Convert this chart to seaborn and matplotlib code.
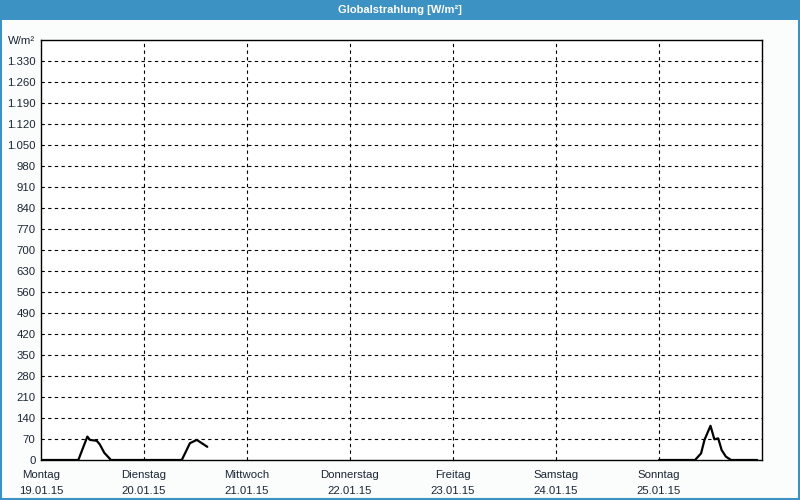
import matplotlib
matplotlib.use("Agg")
import matplotlib.pyplot as plt
import matplotlib.patches as mpatches
import numpy as np
import pandas as pd
import seaborn as sns

# ---- data (hours since Montag 19.01.15 00:00) ----
seg1_hours = [0, 8.7, 10.8, 11.4, 13.0, 13.7, 14.75, 16.3, 32.8, 33.55, 34.7, 36.3, 38.75]
seg1_values = [0, 0, 78, 67, 64, 52, 24, 0, 0, 22, 56, 67, 44]
seg2_hours = [144, 152.4, 153.8, 154.6, 156.0, 156.9, 157.8, 158.6, 159.6, 160.8, 166.9]
seg2_values = [0, 0, 22, 67, 114, 69, 72, 33, 11, 0, 0]

day_names = ["Montag", "Dienstag", "Mittwoch", "Donnerstag", "Freitag", "Samstag", "Sonntag"]
day_dates = ["19.01.15", "20.01.15", "21.01.15", "22.01.15", "23.01.15", "24.01.15", "25.01.15"]
y_ticks = list(range(0, 1331, 70))
y_unit = "W/m²"
title = "Globalstrahlung [W/m²]"

df = pd.DataFrame({
    "hour": seg1_hours + seg2_hours,
    "value": seg1_values + seg2_values,
    "segment": [1] * len(seg1_hours) + [2] * len(seg2_hours),
})

sns.set_theme(style="white")
plt.rcParams["font.family"] = ["Liberation Sans", "DejaVu Sans"]

bg = "#fafdfb"
blue = "#3d92c4"
txt = "#1c2636"

fig = plt.figure(figsize=(8, 5), dpi=100, facecolor=bg)
ax = fig.add_axes([41 / 800, 40 / 500, 721 / 800, 420 / 500])
ax.set_facecolor("white")

sns.lineplot(data=df, x="hour", y="value", units="segment", estimator=None,
             color="black", linewidth=1.6, ax=ax, legend=False)

ax.set_xlim(0, 168)
ax.set_ylim(0, 1400)

xt = [24 * i for i in range(7)]
ax.set_xticks(xt)
ax.set_xticklabels([f"{n}\n{d}" for n, d in zip(day_names, day_dates)],
                   fontsize=8.2, color=txt, linespacing=1.75)
yt = y_ticks + [1400]
ax.set_yticks(yt)
ax.set_yticklabels([f"{v:,}".replace(",", ".") for v in y_ticks] + [y_unit],
                   fontsize=8.2, color=txt)
ax.tick_params(axis="y", length=0, pad=4)
ax.tick_params(axis="x", length=0, pad=7)

for v in y_ticks[1:]:
    ax.axhline(v, color="black", lw=0.8, ls=(0, (3, 3)), zorder=0.5)
for h in xt[1:]:
    ax.axvline(h, color="black", lw=0.8, ls=(0, (3, 3)), zorder=0.5)

for s in ax.spines.values():
    s.set_visible(True)
    s.set_color("black")
    s.set_linewidth(1.0)

ax.set_xlabel("")
ax.set_ylabel("")

# title bar and frame
fig.patches.append(mpatches.Rectangle((0, 1 - 20 / 500), 1, 20 / 500, transform=fig.transFigure,
                                      facecolor=blue, edgecolor="none", zorder=0))
fig.patches.append(mpatches.Rectangle((0.001, 0.002), 0.998, 0.996, transform=fig.transFigure,
                                      facecolor="none", edgecolor=blue, lw=1.5, zorder=1))
fig.text(0.5, 1 - 10 / 500, title, color="white", fontsize=8, fontweight="bold",
         ha="center", va="center")

fig.savefig("out.png", dpi=100, facecolor=bg)
